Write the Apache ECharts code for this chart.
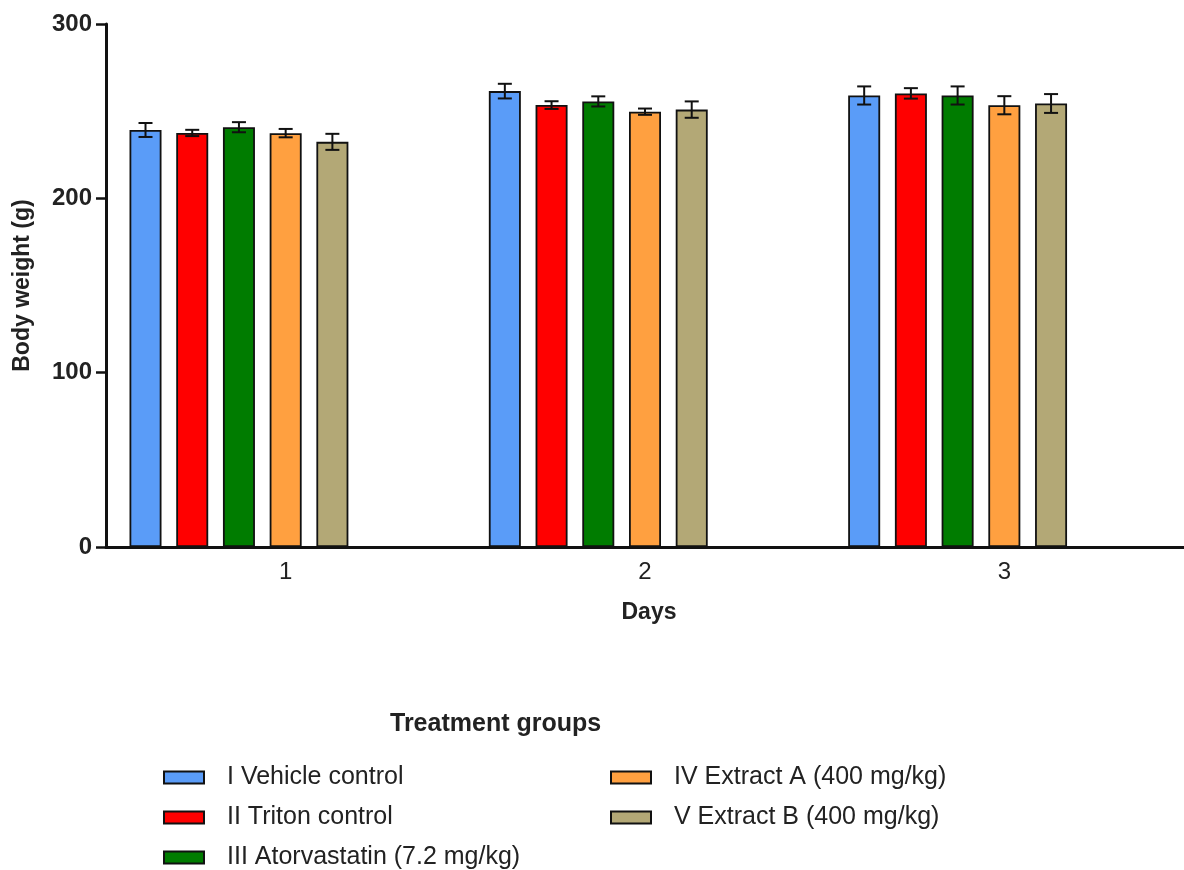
<!DOCTYPE html>
<html>
<head>
<meta charset="utf-8">
<script src="https://cdn.jsdelivr.net/npm/echarts@6/dist/echarts.min.js"></script>
<style>html,body{margin:0;padding:0;background:#fff}#c{width:1184px;height:870px}</style>
</head>
<body>
<div id="c"></div>
<script>
// ---- data ----
var days = ['1', '2', '3'];
var yTicks = [0, 100, 200, 300];
var groupNames = ['I Vehicle control', 'II Triton control', 'III Atorvastatin (7.2 mg/kg)', 'IV Extract A (400 mg/kg)', 'V Extract B (400 mg/kg)'];
var vehicle = [239.2, 261.5, 259.0];
var vehicleErr = [4.0, 4.2, 5.2];
var triton = [237.5, 253.5, 260.2];
var tritonErr = [1.8, 2.2, 3.0];
var atorva = [240.8, 255.6, 259.0];
var atorvaErr = [2.9, 2.9, 5.2];
var extractA = [237.4, 249.7, 253.4];
var extractAErr = [2.4, 1.8, 5.2];
var extractB = [232.4, 250.9, 254.4];
var extractBErr = [4.6, 4.7, 5.4];

var colors = ['#5a9cf8', '#ff0000', '#007c00', '#ffa040', '#b3a876'];
var means = [vehicle, triton, atorva, extractA, extractB];
var errs = [vehicleErr, tritonErr, atorvaErr, extractAErr, extractBErr];

var BAR_W = 32, BAR_GAP = 0.46, SLOTS = 7;
var PITCH = BAR_W * (1 + BAR_GAP);
var FONT = 'Liberation Sans';

var series = [];
means.forEach(function (m, i) {
  series.push({
    name: groupNames[i], type: 'bar', data: m, barWidth: BAR_W, barGap: (BAR_GAP * 100) + '%',
    itemStyle: { color: colors[i], borderColor: '#111', borderWidth: 1.8 },
    z: 2
  });
});
// two empty slots so groups sit left of the tick, as in the original
for (var k = 0; k < 2; k++) {
  series.push({ name: 'pad' + k, type: 'bar', data: [null, null, null], barWidth: BAR_W, barGap: (BAR_GAP * 100) + '%' });
}
var errData = [];
means.forEach(function (m, i) {
  m.forEach(function (v, c) { errData.push([c, i, v - errs[i][c], v + errs[i][c]]); });
});
series.push({
  type: 'custom', z: 5, silent: true,
  data: errData,
  encode: { x: 0, y: [2, 3] },
  renderItem: function (params, api) {
    var c = api.value(0), s = api.value(1);
    var base = api.coord([c, 0]);
    var x = base[0] + (s - (SLOTS - 1) / 2) * PITCH;
    var yLo = api.coord([c, api.value(2)])[1];
    var yHi = api.coord([c, api.value(3)])[1];
    var h = 7;
    var st = { stroke: '#111', lineWidth: 2 };
    return {
      type: 'group', children: [
        { type: 'line', shape: { x1: x, y1: yLo, x2: x, y2: yHi }, style: st },
        { type: 'line', shape: { x1: x - h, y1: yHi, x2: x + h, y2: yHi }, style: st },
        { type: 'line', shape: { x1: x - h, y1: yLo, x2: x + h, y2: yLo }, style: st }
      ]
    };
  }
});

var legendCommon = {
  orient: 'vertical', itemWidth: 40, itemHeight: 12, itemGap: 15, selectedMode: false,
  icon: 'rect', height: 140,
  textStyle: { fontFamily: FONT, fontSize: 25, color: '#222', padding: [0, 0, 0, 18] }
};

var chart = echarts.init(document.getElementById('c'));
chart.setOption({
  animation: false,
  backgroundColor: '#fff',
  grid: { left: 106, right: -2, top: 24, bottom: 323, containLabel: false },
  xAxis: {
    type: 'category', data: days,
    name: 'Days', nameLocation: 'middle', nameGap: 54,
    nameTextStyle: { fontFamily: FONT, fontSize: 23, fontWeight: 'bold', color: '#222', padding: [0, 0, 0, 8] },
    axisLine: { lineStyle: { color: '#111', width: 3 } },
    axisTick: { alignWithLabel: true, length: 6, lineStyle: { color: '#111', width: 2.5 } },
    axisLabel: { fontFamily: FONT, fontSize: 24, color: '#222', margin: 13 },
    splitLine: { show: false }
  },
  yAxis: {
    type: 'value', min: yTicks[0], max: yTicks[yTicks.length - 1], interval: 100,
    name: 'Body weight (g)', nameLocation: 'middle', nameGap: 72, nameRotate: 90,
    nameTextStyle: { fontFamily: FONT, fontSize: 23, fontWeight: 'bold', color: '#222' },
    axisLine: { show: true, lineStyle: { color: '#111', width: 3 } },
    axisTick: { show: true, length: 10, lineStyle: { color: '#111', width: 2.5 } },
    axisLabel: { fontFamily: FONT, fontSize: 24, fontWeight: 'bold', color: '#222', margin: 14 },
    splitLine: { show: false }
  },
  legend: [
    Object.assign({}, legendCommon, { left: 158, top: 760, data: groupNames.slice(0, 3) }),
    Object.assign({}, legendCommon, { left: 605, top: 760, data: groupNames.slice(3) })
  ],
  graphic: [{
    type: 'text', left: 390, top: 712,
    style: { text: 'Treatment groups', font: 'bold 25px "Liberation Sans"', fill: '#222' }
  }],
  series: series
});
</script>
</body>
</html>
